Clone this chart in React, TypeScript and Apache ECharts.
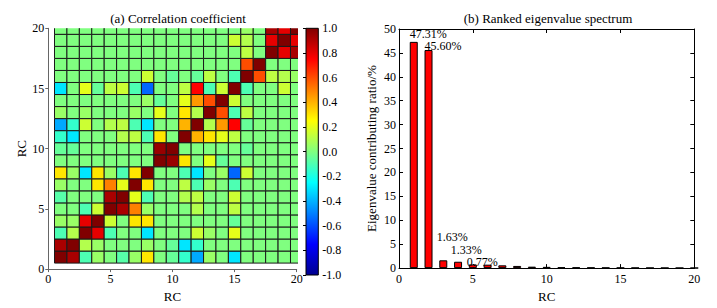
import React, { useEffect, useRef } from 'react';
import * as echarts from 'echarts';

// Correlation matrix, row index 0 = RC 1 (bottom), column index 0 = RC 1 (left)
const corrRows: number[][] = [
  [1, 0.92, -0.1, 0.05, 0, -0.08, 0.05, 0.3, 0, -0.05, -0.15, -0.42, 0.05, 0, -0.3, 0, 0, 0, 0, 0],
  [0.92, 1, 0.1, 0.05, 0, 0, 0, 0.05, 0, -0.05, -0.3, -0.15, 0, 0, 0, 0, 0, 0, 0, 0],
  [-0.1, 0.1, 1, 0.8, -0.1, 0, 0, -0.3, 0, 0, 0, 0.15, 0.05, 0, 0.2, 0, 0, 0, 0, 0],
  [0.05, 0.05, 0.8, 1, 0.15, 0, 0.3, 0.3, 0, 0, 0, 0, 0, 0, -0.05, 0, 0, 0, 0, 0],
  [0, 0, -0.1, 0.15, 1, 0.92, 0.5, 0.05, 0, 0, 0, 0.1, 0, 0, 0.12, 0, 0, 0, 0, 0],
  [-0.08, 0, 0, 0, 0.92, 1, 0.2, -0.1, 0, 0, 0.1, 0.12, 0, 0, 0.15, 0, 0, 0, 0, 0],
  [0.05, 0, 0, 0.3, 0.5, 0.2, 1, 0.3, 0, 0, 0.12, -0.1, 0.05, 0, -0.1, 0, 0, 0, 0, 0],
  [0.3, 0.05, -0.3, 0.3, 0.05, -0.1, 0.3, 1, 0, 0, -0.1, -0.3, 0, 0.05, -0.55, 0.15, 0, 0, 0, 0],
  [0, 0, 0, 0, 0, 0, 0, 0, 1, 0.95, 0.3, 0, 0.2, -0.05, 0, 0, 0, 0, 0, 0],
  [-0.05, -0.05, 0, 0, 0, 0, 0, 0, 0.95, 1, 0, 0, 0, 0, 0, -0.05, 0, 0, 0, 0],
  [-0.15, -0.3, 0, 0, 0, 0.1, 0.12, -0.1, 0.3, 0, 1, 0.4, 0.3, 0.2, 0.12, 0, 0, 0, 0, 0],
  [-0.42, -0.15, 0.15, 0, 0.1, 0.12, -0.1, -0.3, 0, 0, 0.4, 1, 0.1, 0.45, 0.75, -0.05, 0, 0, 0, 0],
  [0.05, 0, 0.05, 0, 0, 0, 0.05, 0, 0.2, 0, 0.3, 0.1, 1, 0.6, -0.1, 0.12, 0, 0, 0, 0],
  [0, 0, 0, 0, 0, 0, 0, 0.05, -0.05, 0, 0.2, 0.45, 0.6, 1, 0.15, 0, 0, 0, 0, 0],
  [-0.3, 0, 0.2, -0.05, 0.12, 0.15, -0.1, -0.55, 0, 0, 0.12, 0.75, -0.1, 0.15, 1, -0.1, 0, 0, 0.15, 0],
  [0, 0, 0, 0, 0, 0, 0, 0.15, 0, -0.05, 0, -0.05, 0.12, 0, -0.1, 1, 0.6, 0.12, 0.1, 0.05],
  [0, 0, 0, 0, 0, 0, 0, 0, 0, 0, 0, 0, 0, 0, 0, 0.6, 1, 0, 0, 0],
  [0, 0, 0, 0, 0, 0, 0, 0, 0, 0, 0, 0, 0, 0, 0, 0.12, 0, 1, 0.8, 0.92],
  [0, 0, 0, 0, 0, 0, 0, 0, 0, 0, 0, 0, 0, 0, 0.15, 0.1, 0, 0.8, 1, 0.8],
  [0, 0, 0, 0, 0, 0, 0, 0, 0, 0, 0, 0, 0, 0, 0, 0.05, 0, 0.92, 0.8, 1],
];

const rcPositions = [1, 2, 3, 4, 5, 6, 7, 8, 9, 10, 11, 12, 13, 14, 15, 16, 17, 18, 19, 20];
const eigenRatios = [47.31, 45.6, 1.63, 1.33, 0.77, 0.72, 0.58, 0.45, 0.3, 0.26, 0.17, 0.15, 0.12, 0.1, 0.09, 0.07, 0.06, 0.05, 0.04, 0.03];
const labelledBars = 5;

// styling
const labelOffsets: [number, number][] = [[-4, -3.8], [-4, 0], [-6.6, -19], [-7.3, -7.5], [-6, 2.5]];
const jetColors = ['#00008F', '#0000FF', '#0080FF', '#00FFFF', '#80FF80', '#FFFF00', '#FF8000', '#FF0000', '#800000'];
const FONT = "'Liberation Serif', 'Times New Roman', serif";

export default function App() {
  const ref = useRef<HTMLDivElement>(null);
  useEffect(() => {
    const chart = echarts.init(ref.current!, undefined, { renderer: 'svg' });

    const heatData: number[][] = [];
    corrRows.forEach((row, r) => {
      row.forEach((v, c) => heatData.push([rcPositions[c], rcPositions[r], v]));
    });

    const barData = eigenRatios.map((v, i) => {
      const item: any = { value: [rcPositions[i], v] };
      if (i < labelledBars) {
        item.label = { show: true, offset: labelOffsets[i] };
      }
      return item;
    });

    const gradStops = jetColors.map((c, i) => ({ offset: i / (jetColors.length - 1), color: c }));

    const tickLabel = { color: '#000', fontFamily: FONT, fontSize: 12 };
    const nameStyle = { color: '#000', fontFamily: FONT, fontSize: 13 };

    const option: any = {
      animation: false,
      backgroundColor: '#fff',
      grid: [
        { left: 48.3, top: 28.3, width: 248.4, height: 246.7 },
        { left: 306, top: 28.3, width: 12.3, height: 246.7 },
        { left: 399, top: 29, width: 295.3, height: 246.5 },
      ],
      visualMap: {
        type: 'continuous',
        show: false,
        min: -1,
        max: 1,
        dimension: 2,
        seriesIndex: 0,
        inRange: { color: jetColors },
      },
      xAxis: [
        {
          gridIndex: 0, type: 'value', min: 0, max: 20, interval: 5,
          name: 'RC', nameLocation: 'middle', nameGap: 13, nameTextStyle: nameStyle,
          axisLine: { show: true, lineStyle: { color: '#666', width: 1 } },
          axisTick: { show: true, inside: false, length: 3, lineStyle: { color: '#666' } },
          axisLabel: { ...tickLabel, margin: 4 },
          splitLine: { show: false },
        },
        {
          gridIndex: 1, type: 'value', min: 0, max: 1, show: false,
        },
        {
          gridIndex: 2, type: 'value', min: 0, max: 20, interval: 5,
          name: 'RC', nameLocation: 'middle', nameGap: 14, nameTextStyle: nameStyle,
          axisLine: { show: true, onZero: false, lineStyle: { color: '#000', width: 1 } },
          axisTick: { show: true, inside: true, length: 4, lineStyle: { color: '#000' } },
          axisLabel: { ...tickLabel, margin: 5 },
          splitLine: { show: false },
        },
        {
          gridIndex: 2, type: 'value', min: 0, max: 20, interval: 5, position: 'top',
          axisLine: { show: true, onZero: false, lineStyle: { color: '#000', width: 1 } },
          axisTick: { show: true, inside: true, length: 4, lineStyle: { color: '#000' } },
          axisLabel: { show: false },
          splitLine: { show: false },
        },
      ],
      yAxis: [
        {
          gridIndex: 0, type: 'value', min: 0, max: 20, interval: 5,
          name: 'RC', nameLocation: 'middle', nameGap: 19, nameTextStyle: nameStyle,
          axisLine: { show: true, lineStyle: { color: '#666', width: 1 } },
          axisTick: { show: true, inside: false, length: 3, lineStyle: { color: '#666' } },
          axisLabel: { ...tickLabel, margin: 4 },
          splitLine: { show: false },
        },
        {
          gridIndex: 1, type: 'value', min: -1, max: 1, interval: 0.2, position: 'right',
          axisLine: { show: false },
          axisTick: { show: true, inside: true, length: 3, lineStyle: { color: '#000' } },
          axisLabel: {
            ...tickLabel, margin: 4,
            formatter: (v: number) => (Math.abs(v) < 1e-9 ? '0.0' : v.toFixed(1)),
          },
          splitLine: { show: false },
          z: 5,
        },
        {
          gridIndex: 2, type: 'value', min: 0, max: 50, interval: 5,
          name: 'Eigenvalue contributing ratio/%', nameLocation: 'middle', nameGap: 21, nameTextStyle: nameStyle,
          axisLine: { show: true, onZero: false, lineStyle: { color: '#000', width: 1 } },
          axisTick: { show: true, inside: true, length: 4, lineStyle: { color: '#000' } },
          axisLabel: { ...tickLabel, margin: 3 },
          splitLine: { show: false },
        },
        {
          gridIndex: 2, type: 'value', min: 0, max: 50, interval: 5, position: 'right',
          axisLine: { show: true, onZero: false, lineStyle: { color: '#000', width: 1 } },
          axisTick: { show: true, inside: true, length: 4, lineStyle: { color: '#000' } },
          axisLabel: { show: false },
          splitLine: { show: false },
        },
      ],
      series: [
        {
          type: 'custom',
          xAxisIndex: 0,
          yAxisIndex: 0,
          clip: true,
          data: heatData,
          renderItem: (params: any, api: any) => {
            const x = api.value(0);
            const y = api.value(1);
            const p0 = api.coord([x - 0.5, y + 0.5]);
            const p1 = api.coord([x + 0.5, y - 0.5]);
            return {
              type: 'rect',
              shape: { x: p0[0], y: p0[1], width: p1[0] - p0[0], height: p1[1] - p0[1] },
              style: { fill: api.visual('color'), stroke: '#1a1a1a', lineWidth: 1 },
            };
          },
        },
        {
          type: 'custom',
          xAxisIndex: 1,
          yAxisIndex: 1,
          data: [[0, -1, 1, 1]],
          renderItem: (params: any, api: any) => {
            const p0 = api.coord([api.value(0), api.value(3)]);
            const p1 = api.coord([api.value(2), api.value(1)]);
            return {
              type: 'rect',
              shape: { x: p0[0], y: p0[1], width: p1[0] - p0[0], height: p1[1] - p0[1] },
              style: {
                fill: new echarts.graphic.LinearGradient(0, 1, 0, 0, gradStops),
                stroke: '#000',
                lineWidth: 1,
              },
            };
          },
        },
        {
          type: 'bar',
          xAxisIndex: 2,
          yAxisIndex: 2,
          barWidth: 8,
          data: barData,
          itemStyle: { color: '#FF0000', borderColor: '#000', borderWidth: 1 },
          label: {
            show: false,
            position: 'top',
            distance: 0,
            align: 'left',
            lineHeight: 9,
            color: '#000',
            fontFamily: FONT,
            fontSize: 12,
            formatter: (p: any) => p.value[1].toFixed(2) + '%',
          },
        },
      ],
      graphic: [
        {
          type: 'text', x: 178, y: 18,
          style: { text: '(a) Correlation coefficient', font: `13px ${FONT}`, fill: '#000', align: 'center', verticalAlign: 'middle' },
        },
        {
          type: 'text', x: 548, y: 18,
          style: { text: '(b) Ranked eigenvalue spectrum', font: `13px ${FONT}`, fill: '#000', align: 'center', verticalAlign: 'middle' },
        },
      ],
    };

    chart.setOption(option);
    return () => chart.dispose();
  }, []);

  return (
    <div
      ref={ref}
      style={{ position: 'absolute', left: 0, top: 0, width: 717, height: 308, background: '#fff' }}
    />
  );
}
